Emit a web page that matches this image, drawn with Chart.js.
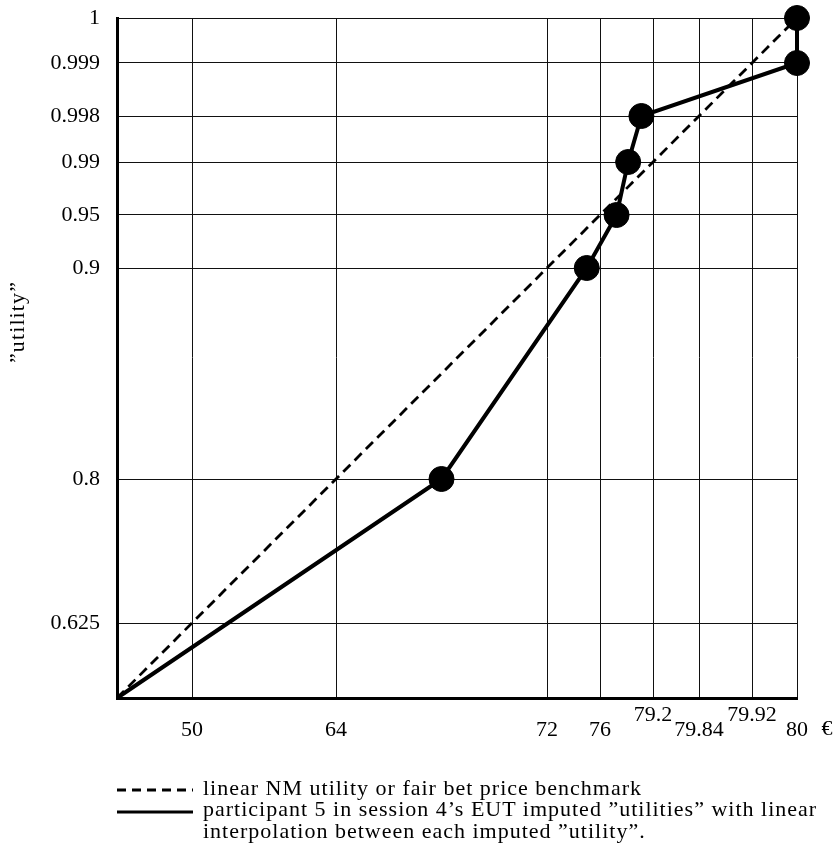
<!DOCTYPE html>
<html>
<head>
<meta charset="utf-8">
<title>Imputed utilities, participant 5, session 4</title>
<script src="https://cdn.jsdelivr.net/npm/chart.js@4.4.0/dist/chart.umd.min.js"></script>
<style>
  html, body { margin: 0; padding: 0; background: #fff; }
  #wrap { position: relative; width: 839px; height: 847px; }
  #chart { position: absolute; left: 0; top: 0; }
  .key { position: absolute; left: 117px; }
  .txt {
    position: absolute; left: 203px; top: 776.7px;
    font-family: 'Liberation Serif', serif; font-size: 22px;
    line-height: 21.7px; letter-spacing: 1px; color: #000; white-space: nowrap;
  }
</style>
</head>
<body>
<div id="wrap">
  <canvas id="chart" width="839" height="847"></canvas>
  <svg class="key" style="top:788px" width="76" height="4">
    <line x1="0" y1="2" x2="76" y2="2" stroke="#000" stroke-width="3" stroke-dasharray="9 6"/>
  </svg>
  <svg class="key" style="top:810px" width="76" height="4">
    <line x1="0" y1="2" x2="76" y2="2" stroke="#000" stroke-width="3.2"/>
  </svg>
  <div class="txt">linear NM utility or fair bet price benchmark<br>participant 5 in session 4’s EUT imputed ”utilities” with linear<br>interpolation between each imputed ”utility”.</div>
</div>
<script>
// Tick values on the price (€) axis and the matching "utility" axis
const priceTicks = [50, 64, 72, 76, 79.2, 79.84, 79.92, 80];
const priceTickLabels = ['50', '64', '72', '76', '79.2', '79.84', '79.92', '80'];
const utilityTicks = [0.625, 0.8, 0.9, 0.95, 0.99, 0.998, 0.999, 1];
const utilityTickLabels = ['0.625', '0.8', '0.9', '0.95', '0.99', '0.998', '0.999', '1'];

// Linear NM utility / fair bet price benchmark
const benchmarkPrice = [0, 80];
const benchmarkUtility = [0, 1];

// Participant 5, session 4: imputed EUT "utilities"
const imputedPrice = [0, 68, 75, 77, 77.7, 78.5, 80, 80];
const imputedUtility = [0, 0.8, 0.9, 0.95, 0.99, 0.998, 0.999, 1];

// Piecewise-linear axis: each knot value sits at a fixed share of the axis length
class KnotScale extends Chart.Scale {
  static id = 'knot';
  static defaults = {};

  determineDataLimits() {
    const k = this.options.knots;
    this.min = k[0];
    this.max = k[k.length - 1];
  }

  buildTicks() {
    return this.options.tickValues.map(value => ({ value }));
  }

  getLabelForValue(value) {
    return String(value);
  }

  getPixelForValue(value) {
    const k = this.options.knots, s = this.options.knotShare;
    let i = 0;
    while (i < k.length - 2 && value > k[i + 1]) i++;
    const t = (value - k[i]) / (k[i + 1] - k[i]);
    return this.getPixelForDecimal(s[i] + t * (s[i + 1] - s[i]));
  }

  getValueForPixel(pixel) {
    const k = this.options.knots, s = this.options.knotShare;
    const d = this.getDecimalForPixel(pixel);
    let i = 0;
    while (i < s.length - 2 && d > s[i + 1]) i++;
    const t = (d - s[i]) / (s[i + 1] - s[i]);
    return k[i] + t * (k[i + 1] - k[i]);
  }
}
Chart.register(KnotScale);

const axisShare = [0, 75, 219, 430, 483, 536, 582, 635, 680].map(v => v / 680);
const serif = "'Liberation Serif', serif";
const raisedPriceLabels = new Set(['79.2', '79.92']);

// Fixed axis boxes so the plot area keeps its place
function fixBox(size) {
  return s => {
    if (s.isHorizontal()) s.height = size; else s.width = size;
    s.paddingTop = 0; s.paddingBottom = 0; s.paddingLeft = 0; s.paddingRight = 0;
  };
}

// Axis title on the left and the currency sign after the last price label
const axisText = {
  id: 'axisText',
  afterDraw(chart) {
    const ctx = chart.ctx;
    const xs = chart.scales.x;
    ctx.save();
    ctx.fillStyle = '#000';
    ctx.font = '22px ' + serif;
    ctx.letterSpacing = '1.1px';
    ctx.textAlign = 'center';
    ctx.textBaseline = 'alphabetic';
    ctx.translate(24, 322);
    ctx.rotate(-Math.PI / 2);
    ctx.fillText('”utility”', 0, 0);
    ctx.restore();

    ctx.save();
    ctx.fillStyle = '#000';
    ctx.font = '22px ' + serif;
    ctx.textAlign = 'center';
    ctx.textBaseline = 'middle';
    ctx.fillText('€', xs.getPixelForValue(80) + 30, xs.top + 31);
    ctx.restore();
  }
};

new Chart(document.getElementById('chart'), {
  type: 'line',
  data: {
    datasets: [
      {
        label: 'participant 5 in session 4’s EUT imputed ”utilities”',
        data: imputedPrice.map((x, i) => ({ x, y: imputedUtility[i] })),
        borderColor: '#000',
        backgroundColor: '#000',
        borderWidth: 4,
        pointRadius: ctx => (ctx.dataIndex === 0 ? 0 : 12.5),
        pointHoverRadius: ctx => (ctx.dataIndex === 0 ? 0 : 12.5),
        pointBorderWidth: 1,
        pointBackgroundColor: '#000',
        pointBorderColor: '#000',
        tension: 0,
        clip: false,
        order: 0
      },
      {
        label: 'linear NM utility or fair bet price benchmark',
        data: benchmarkPrice.map((x, i) => ({ x, y: benchmarkUtility[i] })),
        borderColor: '#000',
        borderWidth: 2.8,
        borderDash: [10, 6],
        pointRadius: 0,
        pointHoverRadius: 0,
        tension: 0,
        clip: false,
        order: 1
      }
    ]
  },
  options: {
    responsive: false,
    animation: false,
    events: [],
    layout: { padding: { left: 0, top: 18, right: 42, bottom: 109 } },
    plugins: { legend: { display: false }, tooltip: { enabled: false } },
    scales: {
      x: {
        type: 'knot',
        position: 'bottom',
        knots: [0, ...priceTicks],
        knotShare: axisShare,
        tickValues: priceTicks,
        afterFit: fixBox(40),
        grid: { color: '#111', lineWidth: 1, drawTicks: false },
        border: { display: true, color: '#000', width: 3 },
        ticks: {
          autoSkip: false,
          maxRotation: 0,
          minRotation: 0,
          padding: 9.5,
          color: '#000',
          font: { family: serif, size: 22, lineHeight: '15px' },
          callback: (v, i) => {
            const lab = priceTickLabels[i];
            return raisedPriceLabels.has(lab) ? [lab, ''] : ['', lab];
          }
        }
      },
      y: {
        type: 'knot',
        position: 'left',
        knots: [0, ...utilityTicks],
        knotShare: axisShare,
        tickValues: utilityTicks,
        afterFit: fixBox(117),
        grid: { color: '#111', lineWidth: 1, drawTicks: false },
        border: { display: true, color: '#000', width: 3 },
        ticks: {
          autoSkip: false,
          padding: 17,
          color: '#000',
          font: { family: serif, size: 22 },
          callback: (v, i) => utilityTickLabels[i]
        }
      }
    }
  },
  plugins: [axisText]
});
</script>
</body>
</html>
